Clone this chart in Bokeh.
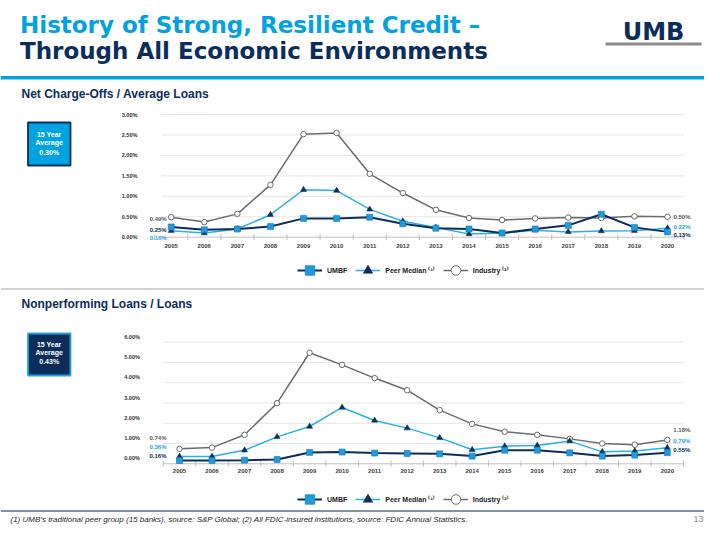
import numpy as np
from bokeh.plotting import figure
from bokeh.models import Range1d, ColumnDataSource, Legend, LegendItem
from bokeh.core.properties import value
from bokeh.embed import file_html
from bokeh.resources import INLINE

# ---------------- data ----------------
years = list(range(2005, 2021))
year_labels = [str(y) for y in years]

nco_umbf = [0.25, 0.18, 0.20, 0.26, 0.46, 0.46, 0.49, 0.33, 0.22, 0.20, 0.10, 0.20, 0.29, 0.56, 0.24, 0.13]
nco_peer = [0.16, 0.10, 0.20, 0.55, 1.16, 1.14, 0.68, 0.39, 0.24, 0.08, 0.10, 0.17, 0.13, 0.15, 0.16, 0.22]
nco_industry = [0.49, 0.37, 0.57, 1.28, 2.52, 2.55, 1.55, 1.08, 0.67, 0.47, 0.42, 0.46, 0.48, 0.47, 0.51, 0.50]
nco_ticks = [0.0, 0.5, 1.0, 1.5, 2.0, 2.5, 3.0]
nco_avg = 0.30

npl_umbf = [0.16, 0.16, 0.18, 0.21, 0.56, 0.58, 0.53, 0.51, 0.49, 0.38, 0.67, 0.67, 0.54, 0.38, 0.43, 0.55]
npl_peer = [0.36, 0.36, 0.67, 1.33, 1.84, 2.78, 2.14, 1.76, 1.28, 0.69, 0.87, 0.90, 1.12, 0.59, 0.63, 0.79]
npl_industry = [0.74, 0.80, 1.43, 2.99, 5.48, 4.88, 4.23, 3.63, 2.65, 1.97, 1.58, 1.43, 1.23, 1.00, 0.94, 1.18]
npl_ticks = [0.0, 1.0, 2.0, 3.0, 4.0, 5.0, 6.0]
npl_avg = 0.43

series_names = ["UMBF", "Peer Median \u207d\u00b9\u207e", "Industry \u207d\u00b2\u207e"]
title_1 = "History of Strong, Resilient Credit \u2013"
title_2 = "Through All Economic Environments"
sub_1 = "Net Charge-Offs / Average Loans"
sub_2 = "Nonperforming Loans / Loans"
footnote = ("(1) UMB\u2019s traditional peer group (15 banks), source: S&P Global; "
            "(2) All FDIC-insured institutions, source: FDIC Annual Statistics.")
page_no = "13"

# ---------------- styles ----------------
NAVY = "#0B2D5B"
CYAN = "#00A3E0"
PEER = "#2AB0E6"
SQ = "#1E9CDA"
GRAY = "#6B6B6B"
LGRAY = "#595959"
FONT = "Liberation Sans"

W, H = 704, 524
PX0, PX1, PY0, PY1 = 0, W, 0, H


def xr(v0, p0, v1, p1):
    k = (v1 - v0) / (p1 - p0)
    return Range1d(start=v0 + (PX0 - p0) * k, end=v0 + (PX1 - p0) * k)


def yr(v0, p0, v1, p1):
    k = (v1 - v0) / (p0 - p1)
    return Range1d(start=v0 + (p0 - PY1) * k, end=v0 + (p0 - PY0) * k)


p = figure(width=W, height=H, x_range=Range1d(PX0, PX1), y_range=Range1d(PY1, PY0),
           output_backend="svg", toolbar_location=None, min_border=0,
           x_axis_type=None, y_axis_type=None, outline_line_color=None)
p.background_fill_color = "white"
p.border_fill_color = "white"

p.extra_x_ranges = {"x1": xr(2005, 170.7, 2020, 667.0), "x2": xr(2005, 179.0, 2020, 666.8)}
p.extra_y_ranges = {"y1": yr(0.0, 236.7, 3.0, 114.0), "y2": yr(0.0, 463.3, 6.0, 341.7)}


def txt(x, y, s, size, color, style="normal", align="left", baseline="middle", font=FONT, **kw):
    return p.text(x=[x], y=[y], text=[s], text_font=value(font), text_font_size=f"{size}px",
                  text_color=color, text_font_style=style, text_align=align,
                  text_baseline=baseline, **kw)


# ---------------- header ----------------
txt(19.5, 24.0, title_1, 23, CYAN, "bold", font="DejaVu Sans")
txt(19.5, 50.5, title_2, 23, NAVY, "bold", font="DejaVu Sans")
txt(653, 31, "UMB", 24, NAVY, "bold", align="center", font="DejaVu Sans")
p.quad(left=[605], right=[701], top=[42], bottom=[45], fill_color="#8C8C8C", line_color=None)
p.quad(left=[PX0], right=[PX1], top=[75.5], bottom=[79], fill_color=CYAN, line_color=None)
txt(21, 93, sub_1, 12, NAVY, "bold")
p.segment(x0=[PX0], x1=[PX1], y0=[288.5], y1=[288.5], line_color="#A6A6A6", line_width=1.2)
txt(21, 303.5, sub_2, 12, NAVY, "bold")
p.segment(x0=[PX0], x1=[PX1], y0=[510.5], y1=[510.5], line_color="#5B6E86", line_width=1.5)
txt(10, 518.8, footnote, 8, "#262626", "italic")
txt(703, 518.5, page_no, 9, "#8C8C8C", align="right")

# average boxes
p.quad(left=[27.5], right=[70], top=[122], bottom=[165], fill_color=CYAN, line_color=NAVY, line_width=1.8)
for yy, s in zip([134.3, 142.3, 151.5], ["15 Year", "Average", f"{nco_avg:.2f}%"]):
    txt(48.7, yy, s, 7, "white", "bold", align="center")
p.quad(left=[27.5], right=[70], top=[333], bottom=[375], fill_color=NAVY, line_color="#1AA7E0", line_width=1.8)
for yy, s in zip([344.3, 352.3, 361], ["15 Year", "Average", f"{npl_avg:.2f}%"]):
    txt(48.7, yy, s, 7, "white", "bold", align="center")


# ---------------- charts ----------------
def chart(xn, yn, umbf, peer, ind, ticks, grid_left, ylab_right, ylab_dy, xlab_y,
          ldx, ldy, rdx, rdy, legend_loc):
    kw = dict(x_range_name=xn, y_range_name=yn)
    src = ColumnDataSource(dict(year=years, umbf=umbf, peer=peer, ind=ind))
    n = len(ticks)
    p.segment(x0=[grid_left] * n, x1=[years[-1] + 0.5] * n, y0=ticks, y1=ticks,
              line_color=["#BFBFBF"] + ["#E6E6E6"] * (n - 1), line_width=1, **kw)
    bounds = [y - 0.5 for y in years] + [years[-1] + 0.5]
    p.scatter(x=bounds, y=[ticks[0]] * len(bounds), marker="dash", angle=np.pi / 2, size=6,
              line_color="#BFBFBF", line_width=1, **kw)
    p.text(x=[ylab_right] * n, y=ticks, text=[f"{t:.2f}%" for t in ticks], y_range_name=yn,
           y_offset=ylab_dy, text_font=value(FONT), text_font_size="5.6px", text_font_style="bold",
           text_color="#333333", text_align="right", text_baseline="middle")
    p.text(x=years, y=[xlab_y] * len(years), text=year_labels, x_range_name=xn,
           text_font=value(FONT), text_font_size="6px", text_font_style="bold",
           text_color="#404040", text_align="center", text_baseline="middle")

    l_ind = p.line("year", "ind", source=src, line_color=GRAY, line_width=1.5, **kw)
    l_peer = p.line("year", "peer", source=src, line_color=PEER, line_width=1.5, **kw)
    l_umbf = p.line("year", "umbf", source=src, line_color=NAVY, line_width=2, **kw)
    s_ind = p.scatter("year", "ind", source=src, marker="circle", size=5.5, fill_color="white",
                      line_color=GRAY, line_width=1, **kw)
    s_peer = p.scatter("year", "peer", source=src, marker="triangle", size=6, fill_color=NAVY,
                       line_color=NAVY, line_width=0.5, **kw)
    s_umbf = p.scatter("year", "umbf", source=src, marker="square", size=6, fill_color=SQ,
                       line_color="#1677B8", line_width=0.6, **kw)

    cols = [LGRAY, "#1AA7E0", NAVY]
    firsts = [ind[0], peer[0], umbf[0]]
    lasts = [ind[-1], peer[-1], umbf[-1]]
    for v, c, dy in zip(firsts, cols, ldy):
        p.text(x=[years[0]], y=[v], text=[f"{v:.2f}%"], x_offset=ldx, y_offset=dy,
               text_font=value(FONT), text_font_size="6px", text_font_style="bold",
               text_color=c, text_align="right", text_baseline="middle", **kw)
    for v, c, dy in zip(lasts, cols, rdy):
        p.text(x=[years[-1]], y=[v], text=[f"{v:.2f}%"], x_offset=rdx, y_offset=dy,
               text_font=value(FONT), text_font_size="6px", text_font_style="bold",
               text_color=c, text_align="left", text_baseline="middle", **kw)

    legend = Legend(items=[LegendItem(label=series_names[0], renderers=[l_umbf, s_umbf]),
                           LegendItem(label=series_names[1], renderers=[l_peer, s_peer]),
                           LegendItem(label=series_names[2], renderers=[l_ind, s_ind])],
                    location=legend_loc, orientation="horizontal", padding=0, margin=0,
                    spacing=8, glyph_width=25, glyph_height=24, label_height=24,
                    label_standoff=5, border_line_alpha=0, background_fill_alpha=0,
                    label_text_font=FONT, label_text_font_size="7px",
                    label_text_font_style="bold", label_text_color="#1A1A1A")
    p.add_layout(legend)


chart("x1", "y1", nco_umbf, nco_peer, nco_industry, nco_ticks, 2004.7, 137, 0, 245,
      -4.5, [1.7, 7.6, 2.6], 6, [0.5, -1.7, 3.6], (297, H - 282))
chart("x2", "y2", npl_umbf, npl_peer, npl_industry, npl_ticks, 2004.5, 139.5, -5.5, 470.5,
      -13, [-11, -10, -5], 6, [-9.4, -6.6, -2.2], (297, H - 511))

open("out.html", "w").write(file_html(p, INLINE))
